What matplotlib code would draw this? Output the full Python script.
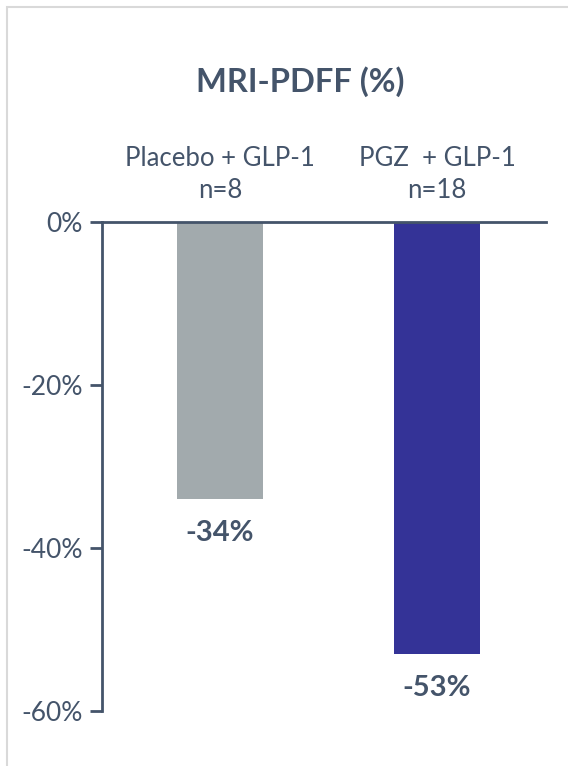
import matplotlib
matplotlib.use("Agg")
import matplotlib.pyplot as plt
from matplotlib.patches import Rectangle

# Data
group_names = ["Placebo + GLP-1", "PGZ  + GLP-1"]
group_sizes = ["n=8", "n=18"]
changes = [-34, -53]
bar_colors = ["#A2AAAD", "#343397"]
yticks = [0, -20, -40, -60]
title = "MRI-PDFF (%)"

W, H = 568, 766
TXT = "#44546A"
plt.rcParams["font.family"] = ["Lato", "DejaVu Sans"]

fig = plt.figure(figsize=(W / 100, H / 100), dpi=100)

# light frame around the chart area
fig.patches.append(Rectangle((7 / W, -0.1), 1.2, 1 - 7 / H + 0.1, transform=fig.transFigure,
                             fill=False, edgecolor="#D9D9D9", linewidth=1.5))

ax_l, ax_r, ax_t, ax_b = 102, 546, 222, 711
ax = fig.add_axes([ax_l / W, 1 - ax_b / H, (ax_r - ax_l) / W, (ax_b - ax_t) / H])

x = list(range(len(changes)))
ax.bar(x, changes, width=0.40, color=bar_colors)
ax.set_xlim(-0.544, 1.502)
ax.set_ylim(-60, 0)

ax.set_yticks(yticks)
ax.set_yticklabels([f"{v}%" for v in yticks], fontsize=19, color=TXT)
ax.tick_params(axis="y", direction="out", length=9, width=2, color=TXT, pad=5)
ax.set_xticks([])

for s in ["right", "bottom"]:
    ax.spines[s].set_visible(False)
for s in ["left", "top"]:
    ax.spines[s].set_color(TXT)
    ax.spines[s].set_linewidth(2)

# category labels above the zero line
for xi, name, n in zip(x, group_names, group_sizes):
    ax.annotate(name, xy=(xi, 0), xytext=(0, 64 * 0.72), textcoords="offset points",
                ha="center", va="center", fontsize=18.5, color=TXT)
    ax.annotate(n, xy=(xi, 0), xytext=(0, 31 * 0.72), textcoords="offset points",
                ha="center", va="center", fontsize=18.5, color=TXT)

# value labels below each bar
for xi, v in zip(x, changes):
    ax.annotate(f"{v}%", xy=(xi, v), xytext=(0, -34 * 0.72), textcoords="offset points",
                ha="center", va="center", fontsize=21, fontweight="bold", color=TXT)

fig.text(300 / W, 1 - 82 / H, title, ha="center", va="center",
         fontsize=23.5, fontweight="bold", color=TXT)

fig.savefig("out.png", dpi=100, facecolor="white")
